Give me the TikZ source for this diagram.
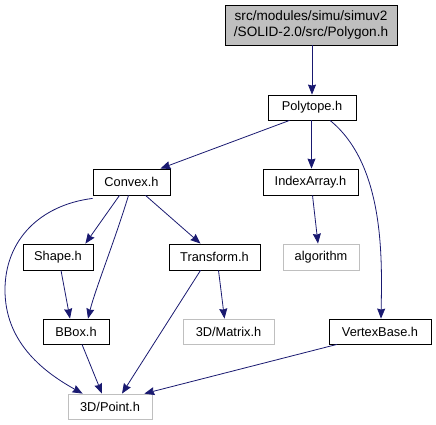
\documentclass[tikz,border=0pt]{standalone}
\usepackage{fontspec}
\setmainfont{Liberation Sans}
\usetikzlibrary{arrows.meta}
\definecolor{edgecol}{HTML}{191970}
\definecolor{lightgray}{HTML}{BFBFBF}
\begin{document}
\begin{tikzpicture}[x=1pt,y=-1pt,
  box/.style={draw=black,line width=0.8pt,fill=white,inner sep=0pt,minimum height=25pt,font=\fontsize{12.8}{15}\selectfont},
  lbox/.style={box,draw=lightgray},
  edge/.style={draw=edgecol,line width=0.8pt,-{Stealth[length=10pt,width=8pt,inset=1pt]}}]
\useasboundingbox (0,0) rectangle (436,425);
\node[box,fill=lightgray,minimum width=172pt,minimum height=40pt,align=center,font=\fontsize{13.6}{16}\selectfont] (top) at (311,25) {src/modules/simu/simuv2\\/SOLID-2.0/src/Polygon.h};
\node[box,minimum width=88pt] (poly) at (312,107.5) {Polytope.h};
\node[box,minimum width=77pt,minimum height=26pt] (convex) at (131.5,182) {Convex.h};
\node[box,minimum width=95pt,minimum height=26pt] (index) at (310.5,182) {IndexArray.h};
\node[box,minimum width=70pt,minimum height=26pt] (shape) at (58,257) {Shape.h};
\node[box,minimum width=91pt,minimum height=26pt] (transform) at (214.5,257) {Transform.h};
\node[lbox,minimum width=76pt,minimum height=26pt] (algo) at (321,257) {algorithm};
\node[box,minimum width=66pt] (bbox) at (76,331.5) {BBox.h};
\node[lbox,minimum width=91pt] (matrix) at (228.5,331.5) {3D/Matrix.h};
\node[box,minimum width=102pt] (vertex) at (380,331.5) {VertexBase.h};
\node[lbox,minimum width=84pt] (point) at (110,406.5) {3D/Point.h};

\draw[edge] (top.south -| poly.north) -- (poly);
\draw[edge] (poly.south west) ++(22pt,0) -- ([xshift=-10pt]convex.north east);
\draw[edge] (poly.south -| index.north) ++(1pt,0) -- ([xshift=1pt]index.north);
\draw[edge] ([xshift=18pt]poly.south) .. controls (385,165) and (382,260) .. ([xshift=1pt]vertex.north);
\draw[edge] ([xshift=-12pt]convex.south) -- ([xshift=-8pt]shape.north east);
\draw[edge] ([xshift=-3pt]convex.south) .. controls (115,240) and (95,290) .. ([xshift=12pt]bbox.north);
\draw[edge] ([xshift=14pt]convex.south) -- ([xshift=-14pt]transform.north);
\draw[edge] ([yshift=-3pt]convex.south west) .. controls (40,205) and (5,240) .. (5,290) .. controls (5,340) and (40,370) .. ([xshift=15pt]point.north west);
\draw[edge] ([xshift=3pt]shape.south) -- ([xshift=-6pt]bbox.north);
\draw[edge] ([xshift=6pt]bbox.south) -- ([xshift=-8pt]point.north);
\draw[edge] ([xshift=-14pt]transform.south) -- ([xshift=12pt]point.north);
\draw[edge] ([xshift=4pt]transform.south) -- ([xshift=-4pt]matrix.north);
\draw[edge] ([xshift=2pt]index.south) -- ([xshift=-3pt]algo.north);
\draw[edge] ([xshift=-43pt]vertex.south) -- ([xshift=-8pt]point.north east);
\end{tikzpicture}
\end{document}
